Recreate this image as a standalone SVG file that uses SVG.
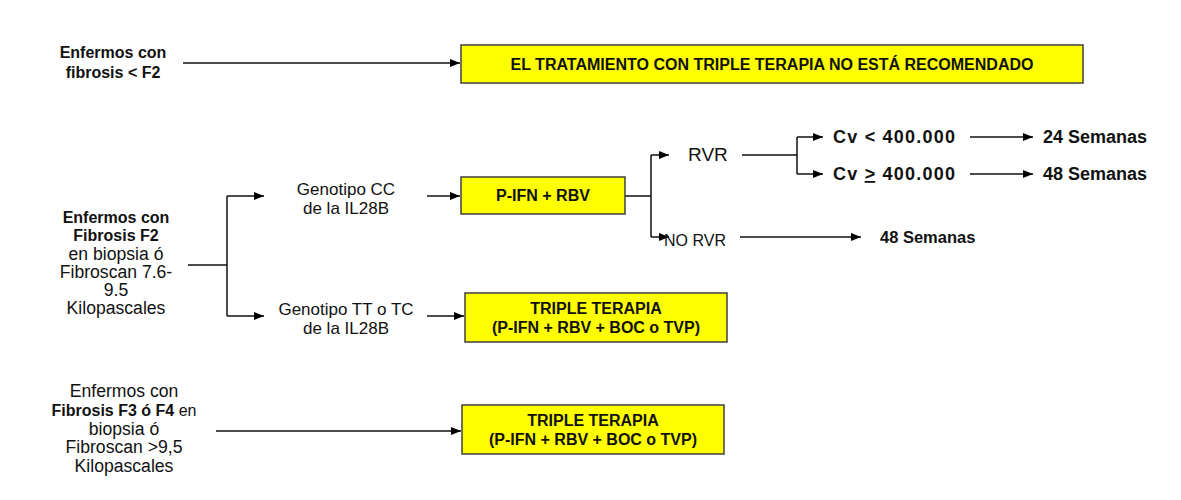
<svg xmlns="http://www.w3.org/2000/svg" width="1181" height="500" viewBox="0 0 1181 500">
<defs>
<marker id="ah" markerWidth="10" markerHeight="8" refX="10" refY="4" orient="auto" markerUnits="userSpaceOnUse">
<path d="M0,0 L10,4 L0,8 Z" fill="#000"/>
</marker>
<style>
text{font-family:"Liberation Sans",Arial,sans-serif;fill:#111;font-size:16px}
.c{text-anchor:middle}
.b{font-weight:bold}
.s17{font-size:17px}
.s175{font-size:17.6px}
.rt{font-size:18px}
.box{fill:#FFFF00;stroke:#404040;stroke-width:1.5}
.ln{fill:none;stroke:#111;stroke-width:1.5}
.ar{fill:none;stroke:#111;stroke-width:1.5;marker-end:url(#ah)}
</style>
</defs>
<rect width="1181" height="500" fill="#fff"/>
<g id="connectors">
<path class="ar" d="M183,63 H460"/>
<path class="ln" d="M188,265 H227 M227,196 V316"/>
<path class="ar" d="M227,196 H264"/>
<path class="ar" d="M227,316 H264"/>
<path class="ar" d="M427,196 H460"/>
<path class="ar" d="M427,316 H464"/>
<path class="ln" d="M625,196 H651 M651,155 V237"/>
<path class="ar" d="M651,155 H669"/>
<path class="ar" d="M651,237 H669"/>
<path class="ln" d="M742,155 H797 M797,137 V174"/>
<path class="ar" d="M797,137 H823"/>
<path class="ar" d="M797,174 H823"/>
<path class="ar" d="M970,137 H1033"/>
<path class="ar" d="M970,174 H1033"/>
<path class="ar" d="M740,237 H861"/>
<path class="ar" d="M216,431 H461"/>
</g>
<g id="n-fib-lt-f2">
<text class="c b" x="113" y="58">Enfermos con</text>
<text class="c b" x="113" y="78">fibrosis &lt; F2</text>
</g>
<g id="n-no-recomendado">
<rect class="box" x="461" y="45" width="622" height="38"/>
<text class="c b" x="772" y="70" textLength="523" lengthAdjust="spacingAndGlyphs">EL TRATAMIENTO CON TRIPLE TERAPIA NO ESTÁ RECOMENDADO</text>
</g>
<g id="n-fib-f2">
<text class="c b" x="116" y="223">Enfermos con</text>
<text class="c b" x="116" y="241">Fibrosis F2</text>
<text class="c s175" x="116" y="260">en biopsia ó</text>
<text class="c s175" x="116" y="278">Fibroscan 7.6-</text>
<text class="c s175" x="116" y="296">9.5</text>
<text class="c s175" x="116" y="314">Kilopascales</text>
</g>
<g id="n-geno-cc">
<text class="c s17" x="346" y="195">Genotipo CC</text>
<text class="c s17" x="346" y="214">de la IL28B</text>
</g>
<g id="n-geno-tt">
<text class="c s17" x="346" y="315">Genotipo TT o TC</text>
<text class="c s17" x="346" y="334">de la IL28B</text>
</g>
<g id="n-pifn">
<rect class="box" x="461" y="177" width="164" height="37"/>
<text class="c b" x="543" y="201">P-IFN + RBV</text>
</g>
<g id="n-triple-1">
<rect class="box" x="465" y="293" width="262" height="49"/>
<text class="c b" x="596" y="314">TRIPLE TERAPIA</text>
<text class="c b" x="596" y="333">(P-IFN + RBV + BOC o TVP)</text>
</g>
<g id="n-rvr"><text x="688" y="161" style="font-size:19px">RVR</text></g>
<g id="n-norvr"><text x="664" y="246">NO RVR</text></g>
<g id="n-cv-lt"><text class="b rt" x="833" y="143" textLength="122" lengthAdjust="spacing">Cv &lt; 400.000</text></g>
<g id="n-cv-ge"><text class="b rt" x="833" y="180" textLength="122" lengthAdjust="spacing">Cv <tspan text-decoration="underline">&gt;</tspan> 400.000</text></g>
<g id="n-24s"><text class="b rt" x="1043" y="143">24 Semanas</text></g>
<g id="n-48s-a"><text class="b rt" x="1043" y="180">48 Semanas</text></g>
<g id="n-48s-b"><text class="b" x="880" y="243" style="font-size:16.5px">48 Semanas</text></g>
<g id="n-fib-f3f4">
<text class="c s175" x="124" y="397">Enfermos con</text>
<text class="c" x="124" y="416"><tspan class="b">Fibrosis F3 ó F4</tspan> en</text>
<text class="c s175" x="124" y="435">biopsia ó</text>
<text class="c s175" x="124" y="453">Fibroscan &gt;9,5</text>
<text class="c s175" x="124" y="472">Kilopascales</text>
</g>
<g id="n-triple-2">
<rect class="box" x="462" y="405" width="262" height="49"/>
<text class="c b" x="593" y="426">TRIPLE TERAPIA</text>
<text class="c b" x="593" y="445">(P-IFN + RBV + BOC o TVP)</text>
</g>
</svg>
